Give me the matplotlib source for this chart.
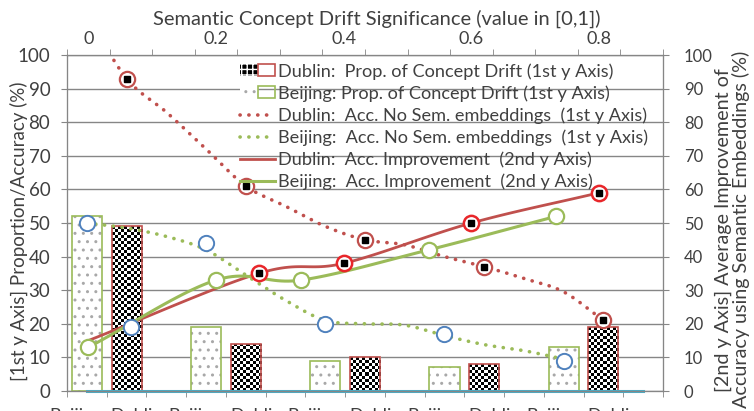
import numpy as np
import matplotlib
matplotlib.use("Agg")
import matplotlib.pyplot as plt
from matplotlib.patches import Patch
from matplotlib.lines import Line2D
from matplotlib.legend_handler import HandlerTuple

plt.rcParams["font.family"] = ["Lato", "DejaVu Sans"]
plt.rcParams["font.size"] = 12

# bottom category axis: 15 slots, every third one left empty
categories = ["Beijing", "Dublin", "", "Beijing", "Dublin", "", "Beijing", "Dublin", "",
              "Beijing", "Dublin", "", "Beijing", "Dublin", ""]
beijing_pos = [0, 3, 6, 9, 12]
dublin_pos = [1, 4, 7, 10, 13]
beijing_prop = [52, 19, 9, 7, 13]
dublin_prop = [49, 14, 10, 8, 19]

# accuracy without semantic embeddings (markers, 1st y axis)
beijing_acc_nosem = [50, 44, 20, 17, 9]
dublin_acc_nosem = [93, 61, 45, 37, 21]

# dotted trend lines, read per category slot
red_dot_x = [0, 1, 2, 3, 4, 5, 6, 7, 8, 9, 10, 11, 12, 13]
red_dot_y = [112, 93, 83, 72, 61, 55, 49, 45, 43.5, 40, 37, 33.5, 29.5, 21]
green_dot_x = [0, 1, 2, 3, 4, 5, 6, 7, 8, 9, 10, 11, 12]
green_dot_y = [50, 48.5, 46, 42, 34.5, 27, 21, 20, 19.6, 16.5, 13.8, 12, 9.5]

baseline = [0] * 15

# top axis: semantic concept drift significance (2nd y axis)
sig_ticks = [0, 0.2, 0.4, 0.6, 0.8]
sig_labels = ["0", "0.2", "0.4", "0.6", "0.8"]
dublin_sig = [0, 0.267, 0.4, 0.6, 0.8]
dublin_impr = [15, 35, 38, 50, 59]
beijing_sig = [0, 0.2, 0.333, 0.533, 0.733]
beijing_impr = [13, 33, 33, 42, 52]
extra_sig = [0.067]
extra_val = [19]

RED = "#C0504D"
GREEN = "#9BBB59"
BLUE = "#4F81BD"
TEAL = "#4BACC6"
GRID = "#868686"
TXT = "#404040"


def smooth(xs, ys, n=24):
    # Catmull-Rom curve through the points, like Excel's smoothed line
    p = np.column_stack([xs, ys]).astype(float)
    p = np.vstack([2 * p[0] - p[1], p, 2 * p[-1] - p[-2]])
    t = np.linspace(0, 1, n, endpoint=False)[:, None]
    out = []
    for i in range(1, len(p) - 2):
        p0, p1, p2, p3 = p[i - 1], p[i], p[i + 1], p[i + 2]
        seg = 0.5 * (2 * p1 + (p2 - p0) * t
                     + (2 * p0 - 5 * p1 + 4 * p2 - p3) * t ** 2
                     + (-p0 + 3 * p1 - 3 * p2 + p3) * t ** 3)
        out.append(seg)
    out.append(p[-2][None, :])
    out = np.vstack(out)
    return out[:, 0], out[:, 1]


fig = plt.figure(figsize=(7.54, 4.11), dpi=100)
ax = fig.add_axes([67 / 754, 1 - 391 / 411, 596 / 754, 336 / 411])
ax.set_xlim(-0.5, 14.5)
ax.set_ylim(0, 100)
ax.set_axisbelow(True)
ax.yaxis.grid(True, color=GRID, lw=1)

# bars
bar_w = 0.76
ax.bar(beijing_pos, beijing_prop, width=bar_w, facecolor="white",
       edgecolor="#A8A8A8", lw=0, hatch="..", zorder=2)
ax.bar(beijing_pos, beijing_prop, width=bar_w, fill=False,
       edgecolor=GREEN, lw=1.2, zorder=3)

bars_d = ax.bar(dublin_pos, dublin_prop, width=bar_w, facecolor="white",
                edgecolor="none", zorder=2)
cx = 3 / (596 / 15)
cy = 3 / (336 / 100)
for b in bars_d:
    x0, w, h = b.get_x(), b.get_width(), b.get_height()
    nc = max(1, int(round(w / cx)))
    nr = max(1, int(round(h / cy)))
    checker = np.indices((nr, nc)).sum(axis=0) % 2
    im = ax.imshow(checker, cmap="gray", extent=(x0, x0 + w, 0, h), origin="lower",
                   interpolation="nearest", aspect="auto", zorder=2.5)
    im.set_clip_path(b)
ax.bar(dublin_pos, dublin_prop, width=bar_w, fill=False,
       edgecolor=RED, lw=1.2, zorder=3)

ax.plot(range(len(baseline)), baseline, color=TEAL, lw=2.2, zorder=4, clip_on=False)

# dotted lines + markers on the category axis
dot_style = dict(lw=2.6, linestyle=(0, (0.05, 2.4)), dash_capstyle="round", zorder=5)
xs, ys = smooth(red_dot_x, red_dot_y)
ax.plot(xs, ys, color=RED, **dot_style)
xs, ys = smooth(green_dot_x, green_dot_y)
ax.plot(xs, ys, color=GREEN, **dot_style)

ax.plot(dublin_pos, dublin_acc_nosem, ls="none", marker="o", ms=11, mfc="white",
        mec=RED, mew=1.6, zorder=6)
ax.plot(dublin_pos, dublin_acc_nosem, ls="none", marker="s", ms=4, color="black", zorder=7)
ax.plot(beijing_pos, beijing_acc_nosem, ls="none", marker="o", ms=11, mfc="white",
        mec=BLUE, mew=1.4, zorder=6)

# category labels: Beijing pushed left, Dublin right, as in the original layout
label_pos = [i + (0.4 if c == "Beijing" else -0.4) for i, c in enumerate(categories)]
ax.set_xticks(label_pos, labels=categories)
for lab, c in zip(ax.get_xticklabels(), categories):
    lab.set_ha("right" if c == "Beijing" else "left")
ax.set_xticks(np.arange(-0.5, 15, 1), minor=True)
ax.tick_params(axis="x", which="major", length=0, pad=12, labelsize=13, labelcolor=TXT)
ax.tick_params(axis="x", which="minor", length=4, color=GRID, direction="out")
ax.set_yticks(range(0, 101, 10))
ax.tick_params(axis="y", length=4, color=GRID, pad=8, labelsize=13.5, labelcolor=TXT)
ax.set_ylabel("[1st y Axis] Proportion/Accuracy (%)", fontsize=13.5, color=TXT)
ax.yaxis.set_label_coords(-0.066, 0.475)

# right axis and top axis
ax_r = ax.twinx()
ax_r.set_ylim(0, 100)
ax_r.set_yticks(range(0, 101, 10))
ax_r.tick_params(axis="y", length=4, color=GRID, pad=11, labelsize=12, labelcolor=TXT)
ax_r.set_ylabel("[2nd y Axis] Average Improvement of\nAccuracy using Semantic Embeddings (%)",
                fontsize=14.2, color=TXT, linespacing=0.95)
ax_r.yaxis.set_label_coords(1.087, 0.48)

ax_t = ax_r.twiny()
ax_t.set_xlim(-0.5 / 15, 13.5 / 15)
ax_t.set_xticks(sig_ticks, labels=sig_labels)
ax_t.set_xticks((np.arange(15) - 0.5) / 15, minor=True)
ax_t.tick_params(axis="x", which="major", length=0, pad=6, labelsize=13, labelcolor=TXT)
ax_t.tick_params(axis="x", which="minor", length=4, color=GRID, direction="out")
ax_t.set_xlabel("Semantic Concept Drift Significance (value in [0,1])",
                fontsize=14.5, color=TXT, labelpad=4)
ax_t.xaxis.label.set_x(0.52)

xs, ys = smooth(dublin_sig, dublin_impr)
ax_t.plot(xs, ys, color=RED, lw=2, zorder=5)
xs, ys = smooth(beijing_sig, beijing_impr)
ax_t.plot(xs, ys, color=GREEN, lw=2.2, zorder=5)
ax_t.plot(beijing_sig, beijing_impr, ls="none", marker="o", ms=11, mfc="white",
          mec=GREEN, mew=1.6, zorder=6)
ax_t.plot(dublin_sig[1:], dublin_impr[1:], ls="none", marker="o", ms=11, mfc="white",
          mec="#E8262A", mew=1.8, zorder=6)
ax_t.plot(dublin_sig[1:], dublin_impr[1:], ls="none", marker="s", ms=4, color="black", zorder=7)
ax_t.plot(extra_sig, extra_val, ls="none", marker="o", ms=11, mfc="white",
          mec=BLUE, mew=1.4, zorder=6)

for a in (ax, ax_r, ax_t):
    for s in a.spines.values():
        s.set_color(GRID)

handles = [
    (Patch(facecolor="black", edgecolor="white", hatch="+++", lw=0),
     Patch(facecolor="none", edgecolor=RED, lw=1.2)),
    (Patch(facecolor="white", edgecolor="#A8A8A8", hatch="..", lw=0),
     Patch(facecolor="none", edgecolor=GREEN, lw=1.2)),
    Line2D([], [], color=RED, **dot_style),
    Line2D([], [], color=GREEN, **dot_style),
    Line2D([], [], color=RED, lw=2),
    Line2D([], [], color=GREEN, lw=2.2),
]
labels = [
    "Dublin:  Prop. of Concept Drift (1st y Axis)",
    "Beijing: Prop. of Concept Drift (1st y Axis)",
    "Dublin:  Acc. No Sem. embeddings  (1st y Axis)",
    "Beijing:  Acc. No Sem. embeddings  (1st y Axis)",
    "Dublin:  Acc. Improvement  (2nd y Axis)",
    "Beijing:  Acc. Improvement  (2nd y Axis)",
]
leg = ax_t.legend(handles, labels, handler_map={tuple: HandlerTuple(ndivide=None, pad=0)},
                  loc="upper left", bbox_to_anchor=(240 / 754, 1 - 63 / 411),
                  bbox_transform=fig.transFigure, frameon=False, fontsize=13.1,
                  handlelength=1.95, handleheight=0.6, handletextpad=0.12,
                  labelspacing=0.30, borderpad=0, borderaxespad=0)
for t in leg.get_texts():
    t.set_color(TXT)

fig.savefig("out.png", dpi=100)
